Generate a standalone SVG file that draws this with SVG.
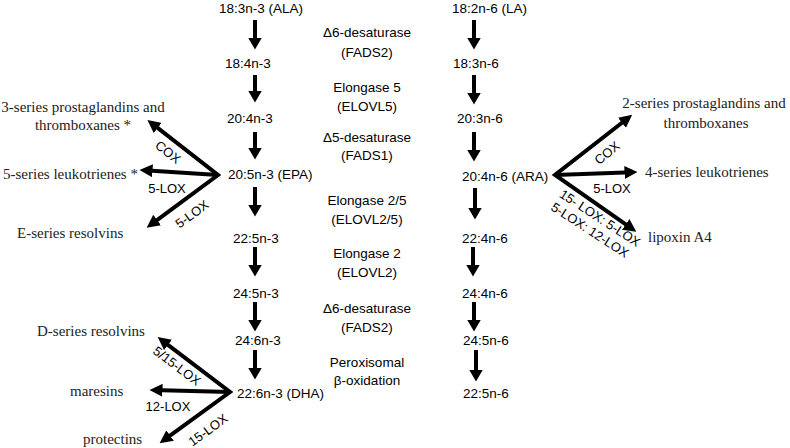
<svg xmlns="http://www.w3.org/2000/svg" width="790" height="448" viewBox="0 0 790 448">
<style>
.fa{font-family:"Liberation Sans","DejaVu Sans",sans-serif;font-size:13.5px;fill:#000}
.en{font-family:"Liberation Sans","DejaVu Sans",sans-serif;font-size:13.5px;fill:#000;text-anchor:middle}
.lb{font-family:"Liberation Sans","DejaVu Sans",sans-serif;font-size:13px;fill:#000;text-anchor:middle}
.pr{font-family:"Liberation Serif","DejaVu Serif",serif;font-size:15px;fill:#222}
.dn{stroke:#000;stroke-width:4;fill:none;marker-end:url(#hd)}
.br{stroke:#000;stroke-width:4;fill:none;stroke-linejoin:miter;stroke-miterlimit:20}
</style>
<defs>
<marker id="hd" viewBox="0 0 12 14" markerWidth="12" markerHeight="14" refX="0.5" refY="7" orient="auto" markerUnits="userSpaceOnUse"><path d="M0,0L12,7L0,14z" fill="#000"/></marker>
<marker id="bh" viewBox="0 0 13 13" markerWidth="13" markerHeight="13" refX="0.5" refY="6.5" orient="auto-start-reverse" markerUnits="userSpaceOnUse"><path d="M0,0L13,6.5L0,13z" fill="#000"/></marker>
</defs>
<rect width="790" height="448" fill="#fff"/>
<g id="connectors">
<line class="dn" x1="255" y1="20" x2="255" y2="38"/>
<line class="dn" x1="255" y1="75" x2="255" y2="91"/>
<line class="dn" x1="255" y1="132" x2="255" y2="148"/>
<line class="dn" x1="255" y1="187" x2="255" y2="205"/>
<line class="dn" x1="255" y1="247" x2="255" y2="265"/>
<line class="dn" x1="255" y1="302" x2="255" y2="320"/>
<line class="dn" x1="255" y1="350" x2="255" y2="368"/>
<line class="dn" x1="474" y1="20" x2="474" y2="38"/>
<line class="dn" x1="474" y1="75" x2="474" y2="93"/>
<line class="dn" x1="474" y1="132" x2="474" y2="150"/>
<line class="dn" x1="475" y1="188" x2="475" y2="208"/>
<line class="dn" x1="473" y1="247" x2="473" y2="265"/>
<line class="dn" x1="474" y1="302" x2="474" y2="320"/>
<line class="dn" x1="476" y1="350" x2="476" y2="370"/>
<path class="br" d="M157.3,127.6L218,175L156.7,220.3" marker-start="url(#bh)" marker-end="url(#bh)"/>
<line class="br" x1="218" y1="175" x2="152" y2="170.7" marker-end="url(#bh)"/>
<path class="br" d="M167.6,344.6L230,392L169.7,435.9" marker-start="url(#bh)" marker-end="url(#bh)"/>
<line class="br" x1="230" y1="392" x2="162" y2="390.3" marker-end="url(#bh)"/>
<path class="br" d="M622.3,122.5L555,175L626.1,224.7" marker-start="url(#bh)" marker-end="url(#bh)"/>
<line class="br" x1="555" y1="175" x2="625" y2="172.5" marker-end="url(#bh)"/>
</g>
<g id="n3-chain">
<text id="ala" class="fa" x="219" y="13">18:3n-3 (ALA)</text>
<text id="sda" class="fa" x="225" y="68">18:4n-3</text>
<text id="eta3" class="fa" x="227" y="123">20:4n-3</text>
<text id="epa" class="fa" x="228" y="179">20:5n-3 (EPA)</text>
<text id="dpa3" class="fa" x="233" y="243">22:5n-3</text>
<text id="tpa" class="fa" x="233" y="298">24:5n-3</text>
<text id="tha" class="fa" x="235" y="345">24:6n-3</text>
<text id="dha" class="fa" x="237" y="398">22:6n-3 (DHA)</text>
</g>
<g id="n6-chain">
<text id="la" class="fa" x="452" y="13">18:2n-6 (LA)</text>
<text id="gla" class="fa" x="453" y="68">18:3n-6</text>
<text id="dgla" class="fa" x="457" y="123">20:3n-6</text>
<text id="ara" class="fa" x="462" y="181">20:4n-6 (ARA)</text>
<text id="ada" class="fa" x="462" y="243">22:4n-6</text>
<text id="c244" class="fa" x="462" y="298">24:4n-6</text>
<text id="c245" class="fa" x="463" y="345">24:5n-6</text>
<text id="dpa6" class="fa" x="463" y="398">22:5n-6</text>
</g>
<g id="enzymes">
<text class="en" x="367" y="37">Δ6-desaturase</text>
<text class="en" x="367" y="57">(FADS2)</text>
<text class="en" x="367" y="92">Elongase 5</text>
<text class="en" x="367" y="111">(ELOVL5)</text>
<text class="en" x="367" y="142">Δ5-desaturase</text>
<text class="en" x="367" y="160">(FADS1)</text>
<text class="en" x="367" y="205">Elongase 2/5</text>
<text class="en" x="367" y="224">(ELOVL2/5)</text>
<text class="en" x="367" y="258">Elongase 2</text>
<text class="en" x="367" y="277">(ELOVL2)</text>
<text class="en" x="367" y="313">Δ6-desaturase</text>
<text class="en" x="367" y="332">(FADS2)</text>
<text class="en" x="367" y="367">Peroxisomal</text>
<text class="en" x="367" y="385">β-oxidation</text>
</g>
<g id="epa-products">
<text class="pr" x="83" y="112" text-anchor="middle">3-series prostaglandins and</text>
<text class="pr" x="83" y="130" text-anchor="middle">thromboxanes *</text>
<text class="pr" x="3" y="179">5-series leukotrienes *</text>
<text class="pr" x="17" y="238">E-series resolvins</text>
<text class="lb" transform="translate(168,152) rotate(38)" y="4.5">COX</text>
<text class="lb" x="167" y="193">5-LOX</text>
<text class="lb" transform="translate(192,214) rotate(-36)" y="4.5">5-LOX</text>
</g>
<g id="dha-products">
<text class="pr" x="37" y="336">D-series resolvins</text>
<text class="pr" x="70" y="396">maresins</text>
<text class="pr" x="83" y="444">protectins</text>
<text class="lb" transform="translate(177,366) rotate(37)" y="4.5">5/15-LOX</text>
<text class="lb" x="168" y="411">12-LOX</text>
<text class="lb" transform="translate(208,430) rotate(-36)" y="4.5">15-LOX</text>
</g>
<g id="ara-products">
<text class="pr" x="704" y="108" text-anchor="middle">2-series prostaglandins and</text>
<text class="pr" x="706" y="128" text-anchor="middle">thromboxanes</text>
<text class="pr" x="645" y="177">4-series leukotrienes</text>
<text class="pr" x="648" y="242">lipoxin A4</text>
<text class="lb" transform="translate(607,153) rotate(-39)" y="4.5">COX</text>
<text class="lb" x="612" y="193">5-LOX</text>
<text class="lb" transform="translate(600,218) rotate(33)" y="4.5">15- LOX: 5-LOX</text>
<text class="lb" transform="translate(590,230) rotate(33)" y="4.5">5-LOX: 12-LOX</text>
</g>
</svg>
